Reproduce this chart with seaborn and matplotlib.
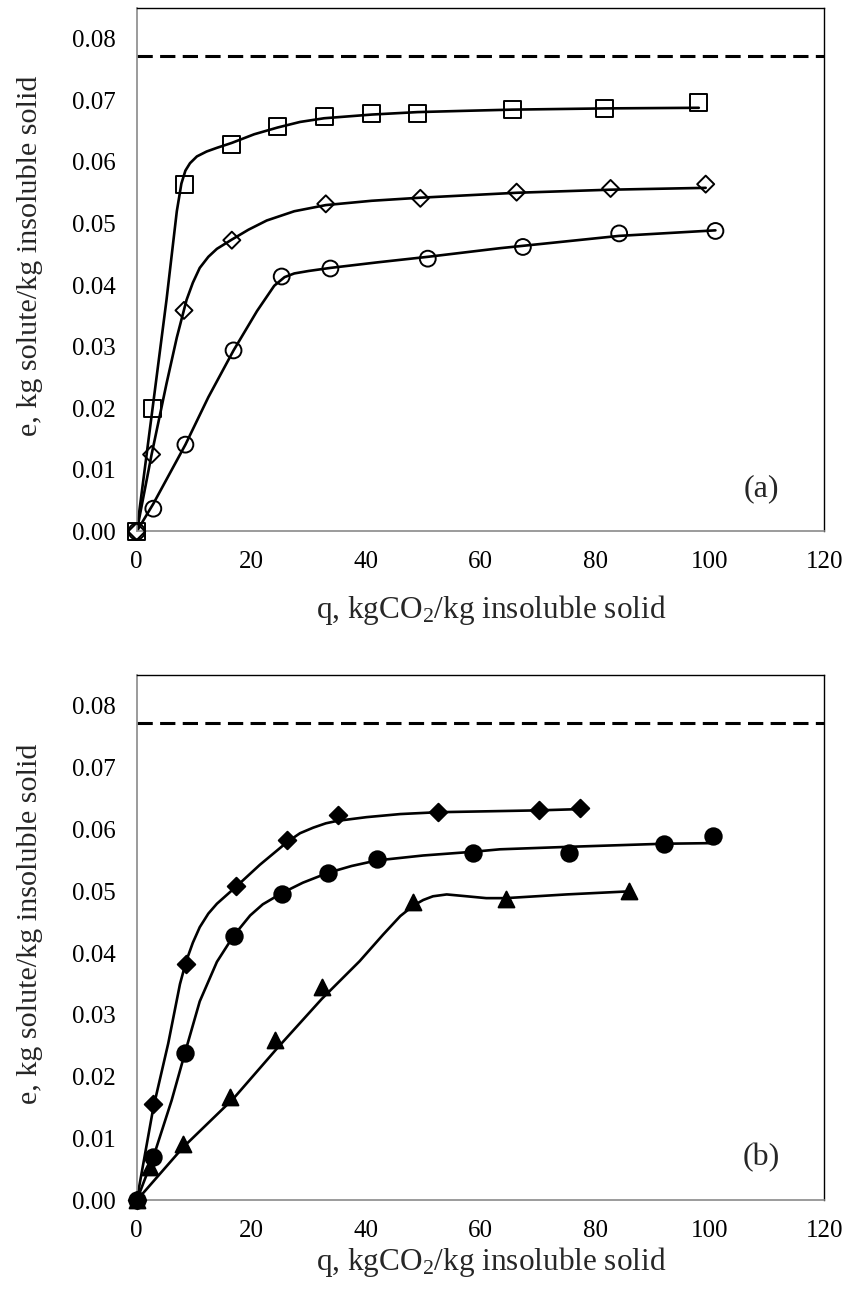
import matplotlib
matplotlib.use("Agg")
import matplotlib.pyplot as plt
import seaborn as sns
from matplotlib.ticker import FormatStrFormatter

# saturation level (dashed line)
E_SAT = 0.0772

# panel (a): open markers
sq_q = [0, 2.7, 8.4, 16.6, 24.6, 32.7, 41.0, 49.0, 65.5, 81.7, 98.1]
sq_e = [0, 0.0200, 0.0564, 0.0629, 0.0657, 0.0674, 0.0679, 0.0679, 0.0685, 0.0687, 0.0697]
dia_q = [0, 2.6, 8.25, 16.6, 33.0, 49.5, 66.3, 82.7, 99.3]
dia_e = [0, 0.0125, 0.0359, 0.0473, 0.0532, 0.0541, 0.0551, 0.0557, 0.0564]
cir_q = [0, 2.9, 8.5, 16.9, 25.3, 33.8, 50.8, 67.4, 84.2, 101.0]
cir_e = [0, 0.0037, 0.0141, 0.0294, 0.0414, 0.0427, 0.0443, 0.0462, 0.0484, 0.0488]

# panel (a): model curves
sq_fit_q = [0, 2.7, 5.2, 7.0, 7.8, 8.5, 9.3, 10.5, 12.2, 14.0, 16.6, 20.5, 24.6,
            28.5, 32.7, 41.0, 49.0, 57.0, 65.5, 81.7, 98.1]
sq_fit_e = [0, 0.0195, 0.0376, 0.0520, 0.0565, 0.0586, 0.0598, 0.0609, 0.0617, 0.0623,
            0.0631, 0.0645, 0.0656, 0.0665, 0.0671, 0.0677, 0.0681, 0.0683, 0.0685,
            0.0687, 0.0688]
dia_fit_q = [0, 2.6, 5.2, 7.0, 8.7, 9.8, 11.0, 12.5, 14.0, 16.6, 19.5, 22.7, 27.5,
             33.0, 41.0, 49.5, 66.3, 82.7, 99.3]
dia_fit_e = [0, 0.0125, 0.0240, 0.0315, 0.0376, 0.0404, 0.0428, 0.0446, 0.0459, 0.0474,
             0.0490, 0.0505, 0.0520, 0.0530, 0.0537, 0.0542, 0.0550, 0.0555, 0.0558]
cir_fit_q = [0, 2.9, 8.5, 12.5, 16.9, 21.0, 24.0, 25.8, 27.5, 30.0, 33.8, 42.0, 50.8,
             63.4, 84.2, 101.0]
cir_fit_e = [0, 0.0045, 0.0141, 0.0218, 0.0294, 0.0358, 0.0399, 0.0413, 0.0419, 0.0423,
             0.0428, 0.0437, 0.0446, 0.0460, 0.0480, 0.0489]

# panel (b): filled markers
fdia_q = [0, 2.9, 8.6, 17.4, 26.3, 35.1, 52.6, 70.2, 77.3]
fdia_e = [0, 0.0156, 0.0382, 0.0508, 0.0583, 0.0623, 0.0628, 0.0631, 0.0635]
fcir_q = [0, 2.9, 8.4, 16.9, 25.3, 33.4, 41.9, 58.7, 75.4, 92.0, 100.6]
fcir_e = [0, 0.0070, 0.0238, 0.0427, 0.0496, 0.0530, 0.0552, 0.0562, 0.0562, 0.0577, 0.0589]
tri_q = [0, 2.3, 8.0, 16.3, 24.2, 32.3, 48.3, 64.4, 86.0]
tri_e = [0, 0.0054, 0.0091, 0.0167, 0.0259, 0.0345, 0.0483, 0.0488, 0.0500]

# panel (b): model curves
fdia_fit_q = [0, 2.9, 5.5, 7.55, 8.6, 9.8, 11.0, 12.5, 14.0, 15.7, 17.4, 21.5, 26.3,
              28.5, 30.8, 33.0, 35.0, 40.1, 46.0, 52.6, 70.2, 77.3]
fdia_fit_e = [0, 0.0150, 0.0254, 0.0350, 0.0386, 0.0417, 0.0442, 0.0464, 0.0480, 0.0494,
              0.0508, 0.0543, 0.0580, 0.0594, 0.0603, 0.0610, 0.0614, 0.0620, 0.0625,
              0.0628, 0.0631, 0.0633]
fcir_fit_q = [0, 2.9, 6.1, 8.4, 11.0, 14.0, 16.9, 19.8, 22.0, 25.3, 29.0, 33.4, 37.5,
              41.9, 50.0, 58.7, 63.4, 75.4, 92.0, 100.6]
fcir_fit_e = [0, 0.0070, 0.0162, 0.0238, 0.0322, 0.0386, 0.0428, 0.0461, 0.0479, 0.0497,
              0.0514, 0.0530, 0.0541, 0.0550, 0.0558, 0.0564, 0.0568, 0.0572, 0.0577,
              0.0578]
tri_fit_q = [0, 8.1, 16.9, 24.4, 32.3, 38.9, 43.0, 46.0, 48.3, 50.0, 51.7, 54.1, 57.6,
             61.0, 64.4, 75.0, 86.0]
tri_fit_e = [0, 0.0086, 0.0165, 0.0245, 0.0326, 0.0387, 0.0430, 0.0460, 0.0477, 0.0486,
             0.0492, 0.0495, 0.0492, 0.0489, 0.0489, 0.0495, 0.0500]

X_TICKS = [0, 20, 40, 60, 80, 100, 120]
Y_TICKS = [0.00, 0.01, 0.02, 0.03, 0.04, 0.05, 0.06, 0.07, 0.08]

sns.set_style("white")
plt.rcParams['font.family'] = ['Liberation Serif', 'DejaVu Serif']
plt.rcParams['mathtext.fontset'] = 'custom'
plt.rcParams['mathtext.rm'] = 'Liberation Serif'
plt.rcParams['mathtext.it'] = 'Liberation Serif:italic'

GRAY = '#8a8a8a'


def draw_curve(ax, q, e):
    sns.lineplot(x=q, y=e, sort=False, estimator=None, color='black',
                 linewidth=1.9, ax=ax, zorder=2)


def draw_points(ax, q, e, marker, size, filled):
    face = 'black' if filled else 'none'
    sns.scatterplot(x=q, y=e, marker=marker, s=size, facecolor=face,
                    edgecolor='black', linewidth=1.4, ax=ax, zorder=3,
                    clip_on=False)


def style_axes(ax, letter, xlabel_y):
    ax.axhline(E_SAT, color='black', linewidth=2.2, dashes=(5, 2.4), zorder=1)
    ax.set_xlim(0, 120)
    ax.set_ylim(0, 0.085)
    ax.set_xticks(X_TICKS)
    ax.set_yticks(Y_TICKS)
    ax.yaxis.set_major_formatter(FormatStrFormatter('%.2f'))
    ax.tick_params(axis='both', direction='out', length=6, width=1,
                   color=GRAY, labelsize=18, labelcolor='black')
    ax.tick_params(axis='y', pad=9)
    ax.tick_params(axis='x', pad=8)
    for side in ['left', 'bottom']:
        ax.spines[side].set_color(GRAY)
        ax.spines[side].set_linewidth(1.2)
    for side in ['top', 'right']:
        ax.spines[side].set_color('black')
        ax.spines[side].set_linewidth(1.0)
    ax.set_xlabel(r'q, kgCO$_2$/kg insoluble solid', fontsize=22.5)
    ax.set_ylabel('e, kg solute/kg insoluble solid', fontsize=21.7)
    ax.xaxis.set_label_coords(0.516, xlabel_y)
    ax.yaxis.set_label_coords(-0.137, 0.527)
    ax.text(0.909, 0.081, letter, transform=ax.transAxes, fontsize=23,
            ha='center', va='center')


fig = plt.figure(figsize=(8.47, 12.95), dpi=100)
ax_a = fig.add_axes([0.1614, 0.5896, 0.8118, 0.4042])
ax_b = fig.add_axes([0.1614, 0.0730, 0.8118, 0.4058])

# panel (a)
draw_curve(ax_a, sq_fit_q, sq_fit_e)
draw_curve(ax_a, dia_fit_q, dia_fit_e)
draw_curve(ax_a, cir_fit_q, cir_fit_e)
draw_points(ax_a, sq_q, sq_e, 's', 150, False)
draw_points(ax_a, dia_q, dia_e, 'D', 75, False)
draw_points(ax_a, cir_q, cir_e, 'o', 130, False)
style_axes(ax_a, '(a)', -0.118)

# panel (b)
draw_curve(ax_b, fdia_fit_q, fdia_fit_e)
draw_curve(ax_b, fcir_fit_q, fcir_fit_e)
draw_curve(ax_b, tri_fit_q, tri_fit_e)
draw_points(ax_b, fdia_q, fdia_e, 'D', 80, True)
draw_points(ax_b, fcir_q, fcir_e, 'o', 140, True)
draw_points(ax_b, tri_q, tri_e, '^', 130, True)
style_axes(ax_b, '(b)', -0.085)

fig.savefig('out.png', dpi=100)
